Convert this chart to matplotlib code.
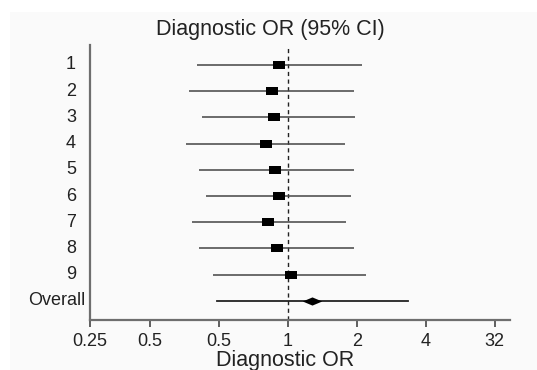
import matplotlib
matplotlib.use("Agg")
import matplotlib.pyplot as plt
import matplotlib.transforms as mtransforms
import numpy as np

plt.rcParams['font.family'] = ['Liberation Sans', 'DejaVu Sans']

# Data
studies = ["1", "2", "3", "4", "5", "6", "7", "8", "9"]
estimates = [0.91, 0.85, 0.87, 0.80, 0.88, 0.91, 0.82, 0.90, 1.03]
lower = [0.40, 0.37, 0.42, 0.36, 0.41, 0.44, 0.38, 0.41, 0.47]
upper = [2.10, 1.95, 1.96, 1.77, 1.94, 1.88, 1.80, 1.94, 2.20]
overall_label = "Overall"
overall_est = 1.27
overall_low = 0.49
overall_up = 3.34
tick_values = [2 ** -2.87, 0.25, 0.5, 1, 2, 4, 8]
tick_labels = ["0.25", "0.5", "0.5", "1", "2", "4", "32"]

W, H = 537, 370
fig = plt.figure(figsize=(W / 100, H / 100), dpi=100)
fig.patch.set_facecolor("white")
# light gray panel
fig.patches.append(plt.Rectangle((10 / W, 0), 1, 1 - 12 / H, transform=fig.transFigure,
                                 facecolor="#fafafa", edgecolor="none", zorder=-10))

ax = fig.add_axes([90 / W, 1 - 320 / H, 420 / W, 275 / H])
ax.set_facecolor("none")
ax.set_xscale("log", base=2)
ax.set_xlim(2 ** -2.87, 2 ** 3.22)
n = len(studies)
ax.set_ylim(n + 1 + 0.73, 0.24)

ys = np.arange(1, n + 1)
line_col = "#444444"
for y, lo, hi in zip(ys, lower, upper):
    ax.plot([lo, hi], [y, y], color=line_col, lw=1.1, solid_capstyle="butt", zorder=2)
sq = [(-1, -0.72), (1, -0.72), (1, 0.72), (-1, 0.72), (-1, -0.72)]
ax.plot(estimates, ys, linestyle="none", marker=sq, markersize=8.2,
        color="black", markeredgewidth=0, zorder=3)

yo = n + 1
ax.plot([overall_low, overall_up], [yo, yo], color="#222222", lw=1.3, zorder=2)
dia = [(-1, 0), (0, 0.42), (1, 0), (0, -0.42), (-1, 0)]
ax.plot([overall_est], [yo], linestyle="none", marker=dia, markersize=14,
        color="black", markeredgewidth=0, zorder=3)

ax.axvline(1, color="#222222", lw=1.0, linestyle=(0, (3, 2.5)), zorder=1)

for s in ["top", "right"]:
    ax.spines[s].set_visible(False)
for s in ["left", "bottom"]:
    ax.spines[s].set_color("#6e6e6e")
    ax.spines[s].set_linewidth(1.6)

ax.set_xticks(tick_values)
ax.set_xticklabels(tick_labels, fontsize=13, color="#222222")
ax.xaxis.set_minor_locator(matplotlib.ticker.NullLocator())
ax.tick_params(axis="x", direction="out", length=5, width=1.2, color="#444444", pad=4)
ax.set_yticks([])

trans = mtransforms.blended_transform_factory(ax.transAxes, ax.transData)
for y, lab in zip(ys, studies):
    ax.text(-14 / 420, y, lab, transform=trans, ha="right", va="center",
            fontsize=13, color="#222222")
ax.text(-5 / 420, yo, overall_label, transform=trans, ha="right", va="center",
        fontsize=13, color="#222222")

ax.set_xlabel("Diagnostic OR", fontsize=15.5, color="#222222")
ax.xaxis.set_label_coords(195 / 420, -30 / 275)
ax.xaxis.label.set_va("top")

fig.text(270 / W, 1 - 29.5 / H, "Diagnostic OR (95% CI)", ha="center", va="center",
         fontsize=15.5, color="#222222")

fig.savefig("out.png", dpi=100, facecolor=fig.get_facecolor())
